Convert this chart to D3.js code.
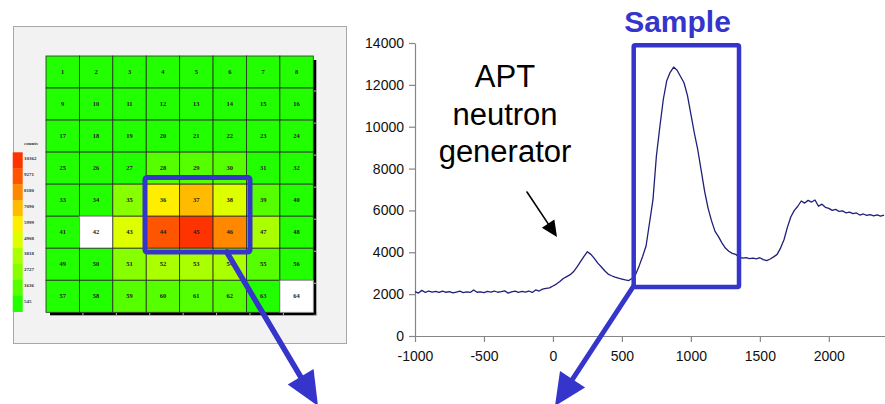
<!DOCTYPE html>
<html><head><meta charset="utf-8">
<script src="https://cdn.jsdelivr.net/npm/d3@7"></script>
<style>body{margin:0;background:#fff}svg{display:block}</style>
</head><body><svg id="c" width="885" height="404"></svg>
<script>
// ---------- DATA ----------
const cellCounts = [
  1200,1250,1300,1350,1320,1280,1220,1150,
  1250,1300,1400,1450,1480,1420,1330,1200,
  1300,1380,1480,1560,1580,1520,1400,1250,
  1350,1450,1600,1900,1950,1850,1550,1300,
  1400,1550,3000,6500,7600,5400,2100,1400,
  1450,null,5300,9800,10900,8700,4200,1450,
  1400,1600,3100,4100,4300,4000,2200,1350,
  1300,1500,1800,2200,2300,2100,1600,null
];
const legendLabels = ["10362","9271","8180","7090","5999","4908","3818","2727","1636","545"];
const legendColors = ["#ff3300","#ff5500","#ff8800","#ffbb00","#ffee00","#ddff00","#aaff00","#88ff00","#55ff00","#22ff00"];
const countDomain = [545, 11453];

const xTicks = [-1000,-500,0,500,1000,1500,2000];
const yTicks = [0,2000,4000,6000,8000,10000,12000,14000];
const channelStart = -1000, channelStep = 25;
const spectrum = [
  2120,2050,2180,2080,2150,2100,2130,2080,2140,2090,
  2120,2060,2100,2140,2070,2110,2080,2200,2090,2110,
  2070,2130,2100,2150,2090,2120,2160,2050,2110,2140,
  2090,2130,2100,2150,2080,2200,2150,2240,2280,2300,
  2390,2480,2600,2750,2840,2930,3080,3300,3550,3800,
  4030,3900,3710,3480,3310,3120,2960,2880,2810,2760,
  2720,2680,2650,2760,2950,3350,3800,4300,5400,6500,
  8600,10000,11300,12200,12600,12850,12700,12400,12100,11500,
  10600,9700,8900,7900,6900,6100,5500,5000,4750,4450,
  4200,4050,3950,3900,3780,3720,3740,3700,3720,3690,
  3740,3650,3600,3680,3780,3900,4200,4600,5200,5700,
  6000,6200,6450,6350,6480,6400,6500,6200,6300,6150,
  6100,6000,6050,5950,5980,5880,5920,5850,5880,5780,
  5830,5760,5800,5740,5790,5730,5780
];
const annotationText = ["APT","neutron","generator"];
const sampleLabel = "Sample";

// ---------- DRAW ----------
const svg = d3.select("#c");
svg.append("rect").attr("width",885).attr("height",404).attr("fill","#fff");

// left panel
svg.append("rect").attr("x",13.5).attr("y",26.5).attr("width",333).attr("height",317)
  .attr("fill","#f2f2f2").attr("stroke","#a8a8a8").attr("stroke-width",1);

const gx = d3.scaleBand().domain(d3.range(8)).range([46,313.3]);
const gy = d3.scaleBand().domain(d3.range(8)).range([56,312.3]);
const color = d3.scaleQuantize().domain(countDomain).range(legendColors.slice().reverse());

// shadow
const sh = 3;
svg.append("rect").attr("x",gx.range()[0]+4).attr("y",gy.range()[1]).attr("width",gx.range()[1]-gx.range()[0]-4+sh).attr("height",sh).attr("fill","#000");
svg.append("rect").attr("x",gx.range()[1]).attr("y",gy.range()[0]+4).attr("width",sh).attr("height",gy.range()[1]-gy.range()[0]-4+sh).attr("fill","#000");
d3.range(1,9).forEach(i=>{
  const x = gx.range()[0] + i*gx.bandwidth() + 3.5;
  svg.append("line").attr("x1",x).attr("x2",x).attr("y1",gy.range()[1]).attr("y2",gy.range()[1]+sh).attr("stroke","#bbb").attr("stroke-width",1);
  const y = gy.range()[0] + i*gy.bandwidth() + 3;
  svg.append("line").attr("y1",y).attr("y2",y).attr("x1",gx.range()[1]).attr("x2",gx.range()[1]+sh).attr("stroke","#bbb").attr("stroke-width",1);
});

const cells = svg.append("g").selectAll("g").data(cellCounts.map((v,i)=>({v,i}))).join("g");
cells.append("rect")
  .attr("x",d=>gx(d.i%8)).attr("y",d=>gy(Math.floor(d.i/8)))
  .attr("width",gx.bandwidth()).attr("height",gy.bandwidth())
  .attr("fill",d=>d.v==null?"#ffffff":color(d.v))
  .attr("stroke",d=>d.v==null?"#888":"#2a2a2a").attr("stroke-width",0.8);
cells.append("text")
  .attr("x",d=>gx(d.i%8)+gx.bandwidth()/2).attr("y",d=>gy(Math.floor(d.i/8))+gy.bandwidth()/2+2)
  .attr("text-anchor","middle").attr("font-family","Liberation Serif, serif").attr("font-weight","bold")
  .attr("font-size",6.5).attr("fill","#222").text(d=>d.i+1);

// legend
const ly = d3.scaleBand().domain(legendLabels).range([152.3,311.7]);
svg.append("g").selectAll("rect").data(legendLabels).join("rect")
  .attr("x",12.7).attr("y",d=>ly(d)).attr("width",10).attr("height",ly.bandwidth()+0.3)
  .attr("fill",(d,i)=>legendColors[i]);
svg.append("g").selectAll("text").data(legendLabels).join("text")
  .attr("x",24).attr("y",d=>ly(d)+7.5).attr("font-family","Liberation Serif, serif").attr("font-weight","bold")
  .attr("font-size",5).attr("fill","#333").text(d=>d);
svg.append("text").attr("x",24).attr("y",145).attr("font-family","Liberation Serif, serif").attr("font-weight","bold")
  .attr("font-size",5).attr("fill","#333").text("counts");

// right chart
const x = d3.scaleLinear().domain([-1000,2400]).range([415,884]);
const y = d3.scaleLinear().domain([0,14000]).range([336,43]);
const axisColor = "#868686";
const xa = svg.append("g").attr("transform","translate(0,336)")
  .call(d3.axisBottom(x).tickValues(xTicks).tickSize(6).tickSizeOuter(0).tickPadding(9).tickFormat(d=>String(d)));
const ya = svg.append("g").attr("transform","translate(415,0)")
  .call(d3.axisLeft(y).tickValues(yTicks).tickSize(6).tickSizeOuter(0).tickPadding(5).tickFormat(d=>String(d)));
[xa,ya].forEach(a=>{
  a.selectAll("path,line").attr("stroke",axisColor).attr("stroke-width",1.2);
  a.selectAll("text").attr("font-family","Liberation Sans, Arial, sans-serif").attr("font-size",14).attr("fill","#111");
});
xa.select(".domain").attr("d","M415,0.5H885");

const line = d3.line().x((d,i)=>x(channelStart+i*channelStep)).y(d=>y(d));
svg.append("path").datum(spectrum).attr("d",line).attr("fill","none")
  .attr("stroke","#1f1f78").attr("stroke-width",1.3).attr("stroke-linejoin","round");

// annotation text
const at = svg.append("g").attr("font-family","Liberation Sans, Arial, sans-serif").attr("font-size",31).attr("fill","#000").attr("text-anchor","middle");
[87,125,162].forEach((by,i)=>at.append("text").attr("x",505).attr("y",by).text(annotationText[i]));

function arrow(x1,y1,x2,y2,w,hl,hw,col){
  const dx=x2-x1, dy=y2-y1, L=Math.hypot(dx,dy), ux=dx/L, uy=dy/L, px=-uy, py=ux;
  const bx=x2-ux*hl, by=y2-uy*hl;
  svg.append("line").attr("x1",x1).attr("y1",y1).attr("x2",bx+ux*2).attr("y2",by+uy*2)
    .attr("stroke",col).attr("stroke-width",w).attr("stroke-linecap","round");
  svg.append("path").attr("d",`M${x2},${y2}L${bx+px*hw/2},${by+py*hw/2}L${bx-px*hw/2},${by-py*hw/2}Z`).attr("fill",col);
}
const blue = "#3535cc";
arrow(527,192,557,237,1.6,16,15,"#000");

// sample box
svg.append("rect").attr("x",633.7).attr("y",45.3).attr("width",105.3).attr("height",241.7)
  .attr("fill","none").attr("stroke",blue).attr("stroke-width",4.5).attr("rx",1.5);
svg.append("text").attr("x",677.5).attr("y",31.5).attr("text-anchor","middle")
  .attr("font-family","Liberation Sans, Arial, sans-serif").attr("font-weight","bold").attr("font-size",30)
  .attr("fill",blue).text(sampleLabel);

// heatmap box
svg.append("rect").attr("x",145).attr("y",177.5).attr("width",105).attr("height",74.5)
  .attr("fill","none").attr("stroke",blue).attr("stroke-width",5).attr("rx",2);

arrow(226.7,252,318,406,5.5,34,30,blue);
arrow(633,287,555,406,5,32,30,blue);
</script></body></html>
